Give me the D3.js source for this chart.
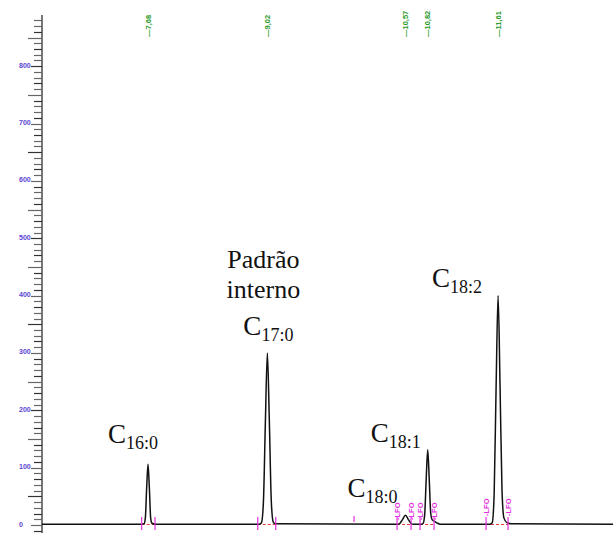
<!DOCTYPE html>
<html><head><meta charset="utf-8">
<script src="https://cdn.jsdelivr.net/npm/d3@7"></script>
<style>html,body{margin:0;padding:0;background:#fff;}svg{display:block;}
.serif{font-family:'Liberation Serif','Times New Roman',serif;}
.sans{font-family:'Liberation Sans',Arial,sans-serif;}</style>
</head><body>
<svg id="c" width="613" height="533"></svg>
<script>
// ---- data ----
const traceRT = [6.49, 7.60, 7.635, 7.65, 7.665, 7.68, 7.695, 7.71, 7.725, 7.76,
  8.93, 8.954, 8.976, 8.998, 9.02, 9.042, 9.064, 9.086, 9.11,
  10.48, 10.50, 10.535, 10.57, 10.605, 10.64, 10.66,
  10.75, 10.769, 10.786, 10.803, 10.82, 10.837, 10.854, 10.871, 10.90, 10.93, 10.96,
  11.52, 11.544, 11.566, 11.588, 11.61, 11.632, 11.654, 11.676, 11.71, 11.76, 12.90];
const traceSignal = [1.5, 1.5, 2, 12, 65, 106, 65, 12, 3, 1.5,
  1.5, 4, 42, 182, 300, 182, 42, 5, 2,
  1.5, 2, 9, 17, 9, 2, 1.5,
  1.5, 3, 18, 80, 131, 80, 20, 9, 6, 3, 1.5,
  1.5, 4, 55, 243, 400, 243, 60, 12, 4, 2, 1.5];

const rtLabels = ["7,68", "9,02", "10,57", "10,82", "11,61"];
const rtValues = [7.68, 9.02, 10.57, 10.82, 11.61];

const peakNames = ["16:0", "17:0", "18:0", "18:1", "18:2"];
const peakRT = [7.68, 9.02, 10.57, 10.82, 11.61];

// integration marks (peak start / end)
const markStart = [7.609, 8.912, 10.476, 10.734, 11.475];
const markEnd   = [7.759, 9.114, 10.633, 10.891, 11.722];
const loneMarkRT = [9.993];
const lfoRT = [10.476, 10.633, 10.734, 10.891, 11.475, 11.722];

const yTicksLabeled = [0, 100, 200, 300, 400, 500, 600, 700, 800];

// ---- layout ----
const svg = d3.select("#c");
const x = d3.scaleLinear().domain([6.49, 12.90]).range([42, 613]);
const y = d3.scaleLinear().domain([0, 800]).range([525, 66.2]);
const axisX = 42;

// y axis line
svg.append("line").attr("x1", axisX).attr("x2", axisX)
  .attr("y1", 15).attr("y2", 533).attr("stroke", "#555").attr("stroke-width", 1.6);

// ticks every 10
const minor = d3.range(-10, 890, 10);
svg.append("g").selectAll("line").data(minor).join("line")
  .attr("x1", d => d % 100 === 0 ? 31 : (d % 50 === 0 ? 28 : 34))
  .attr("x2", axisX)
  .attr("y1", d => Math.round(y(d)) + 0.5).attr("y2", d => Math.round(y(d)) + 0.5)
  .attr("stroke", (d, i) => i % 3 === 0 ? "#333" : "#666").attr("stroke-width", 1.2);

svg.append("g").selectAll("text").data(yTicksLabeled).join("text")
  .attr("class", "sans")
  .attr("x", 19).attr("y", d => y(d) + 1.5)
  .attr("font-size", 7).attr("font-weight", "bold")
  .attr("fill", "#5a44d4").text(d => d);

// red dashed integration baselines
svg.append("g").selectAll("line").data(markStart).join("line")
  .attr("x1", d => x(d)).attr("x2", (d, i) => x(markEnd[i]))
  .attr("y1", y(0) - 0.5).attr("y2", y(0) - 0.5)
  .attr("stroke", "#e8393a").attr("stroke-width", 1).attr("stroke-dasharray", "3,2");

// trace
const line = d3.line().x(d => x(d[0])).y(d => y(d[1])).curve(d3.curveMonotoneX);
svg.append("path").datum(traceRT.map((r, i) => [r, traceSignal[i]]))
  .attr("d", line).attr("fill", "none").attr("stroke", "#111").attr("stroke-width", 1.5);

// magenta start/end marks
const allMarks = markStart.concat(markEnd);
svg.append("g").selectAll("line").data(allMarks).join("line")
  .attr("x1", d => x(d)).attr("x2", d => x(d))
  .attr("y1", 517).attr("y2", 530)
  .attr("stroke", "#e62fe0").attr("stroke-width", 1.2);
svg.append("g").selectAll("line").data(loneMarkRT).join("line")
  .attr("x1", d => x(d)).attr("x2", d => x(d))
  .attr("y1", 516).attr("y2", 522)
  .attr("stroke", "#e62fe0").attr("stroke-width", 1.2);

// LFO labels
svg.append("g").selectAll("text").data(lfoRT).join("text")
  .attr("class", "sans")
  .attr("transform", (d, i) => `translate(${x(d) + 2.5},${i >= 4 ? 516 : 520}) rotate(-90)`)
  .attr("font-size", 7.5).attr("font-weight", "bold").attr("fill", "#e030e0").text("-LFO");

// green retention-time labels
svg.append("g").selectAll("text").data(rtValues).join("text")
  .attr("class", "sans")
  .attr("transform", d => `translate(${x(d) + 2.5},37) rotate(-90)`)
  .attr("font-size", 7.5).attr("font-weight", "bold").attr("fill", "#2a9a2a")
  .text((d, i) => "—" + rtLabels[i]);

// peak labels
const labelOffsets = [[-40, 443], [-24, 335], [-58, 497], [-57, 442], [-66, 287]];
const g = svg.append("g").attr("fill", "#111");
peakNames.forEach((n, i) => {
  const t = g.append("text").attr("class", "serif")
    .attr("x", x(peakRT[i]) + labelOffsets[i][0]).attr("y", labelOffsets[i][1])
    .attr("font-size", 27);
  t.append("tspan").text("C");
  t.append("tspan").attr("dy", 6).attr("font-size", 18).text(n);
});
g.append("text").attr("class", "serif").attr("x", x(peakRT[1]) - 4).attr("y", 268)
  .attr("text-anchor", "middle").attr("font-size", 26).text("Padrão");
g.append("text").attr("class", "serif").attr("x", x(peakRT[1]) - 4).attr("y", 298)
  .attr("text-anchor", "middle").attr("font-size", 26).text("interno");
</script>
</body></html>
